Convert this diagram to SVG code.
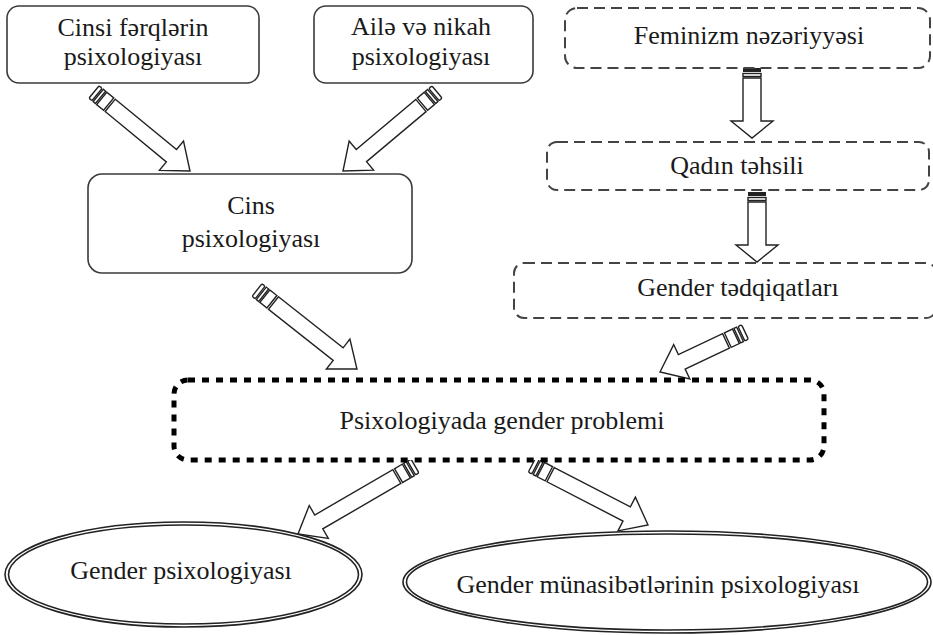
<svg xmlns="http://www.w3.org/2000/svg" width="933" height="635" viewBox="0 0 933 635">
<style>
.box{fill:#fff;stroke:#3a3a3a;stroke-width:1.6}
.dash{fill:#fff;stroke:#444;stroke-width:2;stroke-dasharray:11 6}
.dot{fill:#fff;stroke:#000;stroke-width:5;stroke-dasharray:7 7}
.ell{fill:#fff;stroke:#222;stroke-width:1.6}
.t{font-family:"Liberation Serif","DejaVu Serif","Times New Roman",serif;font-size:26px;fill:#1a1a1a;text-anchor:middle}
.a{fill:#fff;stroke:#222;stroke-width:1.4;stroke-linejoin:miter}
</style>
<rect width="933" height="635" fill="#fff"/>

<g id="connectors">
  <g id="a1" transform="translate(94,92) rotate(39.45)">
    <rect class="a" x="0" y="-8" width="4" height="16" rx="1.5"/><rect class="a" x="5.5" y="-8" width="3" height="16"/><rect class="a" x="10" y="-8" width="9" height="16"/>
    <polygon class="a" points="21,-8 100.3,-8 100.3,-19 124.3,0 100.3,19 100.3,8 21,8"/>
  </g>
  <g id="a2" transform="translate(437,92) rotate(139.96)">
    <rect class="a" x="0" y="-8" width="4" height="16" rx="1.5"/><rect class="a" x="5.5" y="-8" width="3" height="16"/><rect class="a" x="10" y="-8" width="9" height="16"/>
    <polygon class="a" points="21,-8 98.8,-8 98.8,-19 122.8,0 98.8,19 98.8,8 21,8"/>
  </g>
  <g id="a3" transform="translate(257,290) rotate(38.31)">
    <rect class="a" x="0" y="-8" width="4" height="16" rx="1.5"/><rect class="a" x="5.5" y="-8" width="3" height="16"/><rect class="a" x="10" y="-8" width="9" height="16"/>
    <polygon class="a" points="21,-8 103.4,-8 103.4,-19 127.4,0 103.4,19 103.4,8 21,8"/>
  </g>
  <g id="a4" transform="translate(752,68) rotate(90)">
    <rect x="0" y="-9" width="4" height="18" fill="#222"/><rect class="a" x="5.5" y="-9" width="3" height="18"/>
    <polygon class="a" points="10,-9 53,-9 53,-21 70,0 53,21 53,9 10,9"/>
  </g>
  <g id="a5" transform="translate(757,192) rotate(90)">
    <rect x="0" y="-9" width="4" height="18" fill="#222"/><rect class="a" x="5.5" y="-9" width="3" height="18"/>
    <polygon class="a" points="10,-9 53,-9 53,-21 70,0 53,21 53,9 10,9"/>
  </g>
  <g id="a6" transform="translate(745,332) rotate(154.8)">
    <rect class="a" x="0" y="-8" width="4" height="16" rx="1.5"/><rect class="a" x="5.5" y="-8" width="3" height="16"/><rect class="a" x="10" y="-8" width="9" height="16"/>
    <polygon class="a" points="21,-8 69.9,-8 69.9,-19 93.9,0 69.9,19 69.9,8 21,8"/>
  </g>
  <g id="a7" transform="translate(415,466) rotate(149.84)">
    <rect class="a" x="0" y="-8" width="4" height="16" rx="1.5"/><rect class="a" x="5.5" y="-8" width="3" height="16"/><rect class="a" x="10" y="-8" width="9" height="16"/>
    <polygon class="a" points="21,-8 111.3,-8 111.3,-19 135.3,0 111.3,19 111.3,8 21,8"/>
  </g>
  <g id="a8" transform="translate(532,465) rotate(27.35)">
    <rect class="a" x="0" y="-8" width="4" height="16" rx="1.5"/><rect class="a" x="5.5" y="-8" width="3" height="16"/><rect class="a" x="10" y="-8" width="9" height="16"/>
    <polygon class="a" points="21,-8 106.6,-8 106.6,-19 130.6,0 106.6,19 106.6,8 21,8"/>
  </g>
</g>

<g id="n1">
  <rect class="box" x="7" y="6" width="252" height="77" rx="12"/>
  <text class="t" x="133" y="36">Cinsi fərqlərin</text>
  <text class="t" x="133" y="65">psixologiyası</text>
</g>
<g id="n2">
  <rect class="box" x="314" y="6" width="219" height="77" rx="12"/>
  <text class="t" x="421" y="35">Ailə və nikah</text>
  <text class="t" x="421" y="65">psixologiyası</text>
</g>
<g id="n3">
  <rect class="dash" x="565" y="8" width="365" height="60" rx="12"/>
  <text class="t" x="749" y="44">Feminizm nəzəriyyəsi</text>
</g>
<g id="n4">
  <rect class="dash" x="547" y="142" width="382" height="48" rx="10"/>
  <text class="t" x="737" y="174">Qadın təhsili</text>
</g>
<g id="n5">
  <rect class="dash" x="514" y="263" width="422" height="55" rx="10"/>
  <text class="t" x="738" y="296">Gender tədqiqatları</text>
</g>
<g id="n6">
  <rect class="box" x="88" y="174" width="324" height="99" rx="14"/>
  <text class="t" x="251" y="214">Cins</text>
  <text class="t" x="251" y="247">psixologiyası</text>
</g>
<g id="n7">
  <rect class="dot" x="174" y="380" width="650" height="80" rx="14"/>
  <text class="t" x="502" y="429">Psixologiyada gender problemi</text>
</g>
<g id="n8">
  <ellipse class="ell" cx="183.5" cy="574.5" rx="178.5" ry="52.5"/>
  <ellipse class="ell" cx="183.5" cy="574.5" rx="175" ry="49.5"/>
  <text class="t" x="181" y="579">Gender psixologiyası</text>
</g>
<g id="n9">
  <ellipse class="ell" cx="667" cy="582" rx="264" ry="51"/>
  <ellipse class="ell" cx="667" cy="582" rx="260.5" ry="48"/>
  <text class="t" x="658" y="593">Gender münasibətlərinin psixologiyası</text>
</g>
</svg>
